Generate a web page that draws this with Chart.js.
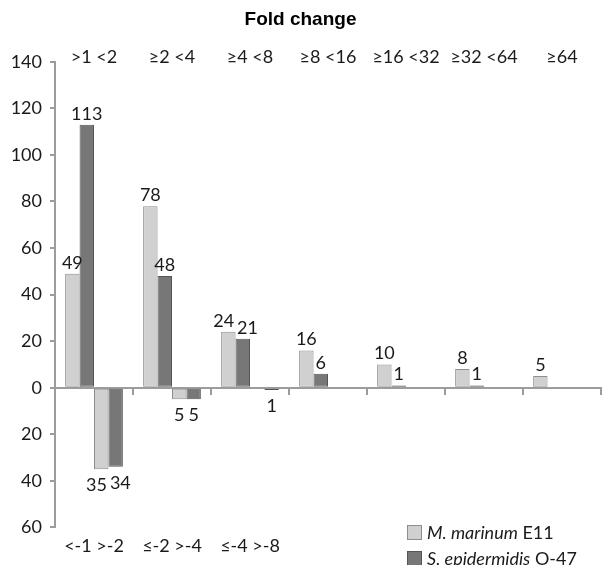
<!DOCTYPE html>
<html>
<head>
<meta charset="utf-8">
<script src="https://cdn.jsdelivr.net/npm/chart.js@4.4.0/dist/chart.umd.min.js"></script>
<style>
  html, body { margin: 0; padding: 0; background: #fff; }
  #wrap { position: relative; width: 604px; height: 565px; }
  #legend { position: absolute; left: 407px; top: 519px; font-family: Lato, sans-serif; font-size: 18px; color: #1a1a1a; }
  .item { display: flex; align-items: center; height: 26px; white-space: nowrap; }
  .sw { width: 15px; height: 15px; margin-right: 5px; box-sizing: border-box; border: 1px solid; }
</style>
</head>
<body>
<div id="wrap">
  <canvas id="c" width="604" height="565"></canvas>
  <div id="legend"></div>
</div>
<script>
// Fold-change bins: up-regulated (top row) and down-regulated (bottom row)
const upBins = ['>1 <2', '≥2 <4', '≥4 <8', '≥8 <16', '≥16 <32', '≥32 <64', '≥64'];
const downBins = ['<-1 >-2', '≤-2 >-4', '≤-4 >-8', '', '', '', ''];

// Number of genes per bin
const marinumUp = [49, 78, 24, 16, 10, 8, 5];
const epidermidisUp = [113, 48, 21, 6, 1, 1, null];
const marinumDown = [35, 5, null, null, null, null, null];
const epidermidisDown = [34, 5, 1, null, null, null, null];

const speciesNames = ['M. marinum', 'S. epidermidis'];
const strainNames = ['E11', 'O-47'];

const lightFill = '#d0d0d0', lightEdge = '#8e8e8e';
const darkFill = '#777777', darkEdge = '#555555';
const axisGrey = '#9c9c9c';
const textColor = '#1a1a1a';
const labelFont = '18px Lato';

const neg = arr => arr.map(v => (v == null ? null : -v));

Chart.defaults.font.family = 'Lato';
Chart.defaults.font.size = 18;
Chart.defaults.color = textColor;

const datasets = [
  { label: speciesNames[0] + ' ' + strainNames[0], src: marinumUp, data: marinumUp, backgroundColor: lightFill, borderColor: lightEdge },
  { label: speciesNames[1] + ' ' + strainNames[1], src: epidermidisUp, data: epidermidisUp, backgroundColor: darkFill, borderColor: darkEdge },
  { label: speciesNames[0] + ' ' + strainNames[0], src: marinumDown, data: neg(marinumDown), backgroundColor: lightFill, borderColor: lightEdge },
  { label: speciesNames[1] + ' ' + strainNames[1], src: epidermidisDown, data: neg(epidermidisDown), backgroundColor: darkFill, borderColor: darkEdge }
].map(d => Object.assign(d, {
  borderWidth: 1,
  borderSkipped: false,
  categoryPercentage: 0.74,
  barPercentage: 1.0,
  xAxisID: 'x',
  yAxisID: 'y'
}));

// Counts above/below each bar (neighbours pushed apart when they collide),
// and the up-regulated bin names along the top
const annotate = {
  id: 'annotate',
  afterDatasetsDraw(chart) {
    const ctx = chart.ctx;
    ctx.save();
    ctx.font = labelFont;
    ctx.fillStyle = textColor;
    ctx.textAlign = 'center';
    ctx.textBaseline = 'alphabetic';
    const textH = 13, gap = 3;
    const labels = [];
    chart.data.datasets.forEach((ds, i) => {
      const meta = chart.getDatasetMeta(i);
      meta.data.forEach((bar, j) => {
        const v = ds.src[j];
        if (v == null) return;
        const p = bar.getProps(['x', 'y'], true);
        const up = ds.data[j] >= 0;
        const text = String(v);
        labels.push({ text, cat: j, up, x: p.x, y: up ? p.y - 5 : p.y + 22, w: ctx.measureText(text).width });
      });
    });
    // resolve overlaps between labels of the same bin on the same side
    for (let a = 0; a < labels.length; a++) {
      for (let b = 0; b < labels.length; b++) {
        const A = labels[a], B = labels[b];
        if (a === b || A.cat !== B.cat || A.up !== B.up || A.x >= B.x) continue;
        if (Math.abs(A.y - B.y) >= textH) continue;
        const need = (A.w + B.w) / 2 + gap;
        const have = B.x - A.x;
        if (have < need) {
          const shift = (need - have) / 2;
          A.x -= shift;
          B.x += shift;
        }
      }
    }
    labels.forEach(l => ctx.fillText(l.text, l.x, l.y));
    const xs = chart.scales.x;
    upBins.forEach((lab, i) => {
      ctx.fillText(lab, xs.getPixelForValue(i), chart.chartArea.top + 1);
    });
    ctx.restore();
  }
};

new Chart(document.getElementById('c'), {
  type: 'bar',
  data: { labels: upBins, datasets },
  plugins: [annotate],
  options: {
    responsive: false,
    devicePixelRatio: 1,
    animation: false,
    layout: { padding: { top: 0, right: 3, bottom: 0, left: 0 } },
    plugins: {
      legend: { display: false },
      tooltip: { enabled: false },
      title: {
        display: true,
        text: 'Fold change',
        color: '#000',
        font: { family: 'Liberation Sans', size: 19, weight: 'bold' },
        padding: { top: 8, bottom: 31 }
      }
    },
    scales: {
      x: {
        type: 'category',
        position: { y: 0 },
        offset: true,
        ticks: { display: false },
        grid: { offset: true, drawOnChartArea: false, drawTicks: true, tickLength: 6, color: axisGrey, lineWidth: 2 },
        border: { display: true, color: axisGrey, width: 2 }
      },
      xb: {
        type: 'category',
        position: 'bottom',
        labels: downBins,
        offset: true,
        ticks: { padding: 8, maxRotation: 0, autoSkip: false, color: textColor },
        grid: { display: false, drawTicks: false, tickLength: 0 },
        border: { display: false }
      },
      y: {
        position: 'left',
        min: -60,
        max: 140,
        ticks: { stepSize: 20, padding: 8, color: textColor, callback: v => String(Math.abs(v)) },
        grid: { drawOnChartArea: false, drawTicks: true, tickLength: 5, color: axisGrey, lineWidth: 2 },
        border: { display: true, color: axisGrey, width: 2 },
        afterFit(scale) { scale.width = 55; }
      }
    }
  }
});

// Legend with italic species names
const legendEl = document.getElementById('legend');
[[lightFill, lightEdge], [darkFill, darkEdge]].forEach(([fill, edge], k) => {
  const row = document.createElement('div');
  row.className = 'item';
  const sw = document.createElement('span');
  sw.className = 'sw';
  sw.style.background = fill;
  sw.style.borderColor = edge;
  const txt = document.createElement('span');
  const it = document.createElement('i');
  it.textContent = speciesNames[k];
  txt.appendChild(it);
  txt.appendChild(document.createTextNode(' ' + strainNames[k]));
  row.appendChild(sw);
  row.appendChild(txt);
  legendEl.appendChild(row);
});
</script>
</body>
</html>
